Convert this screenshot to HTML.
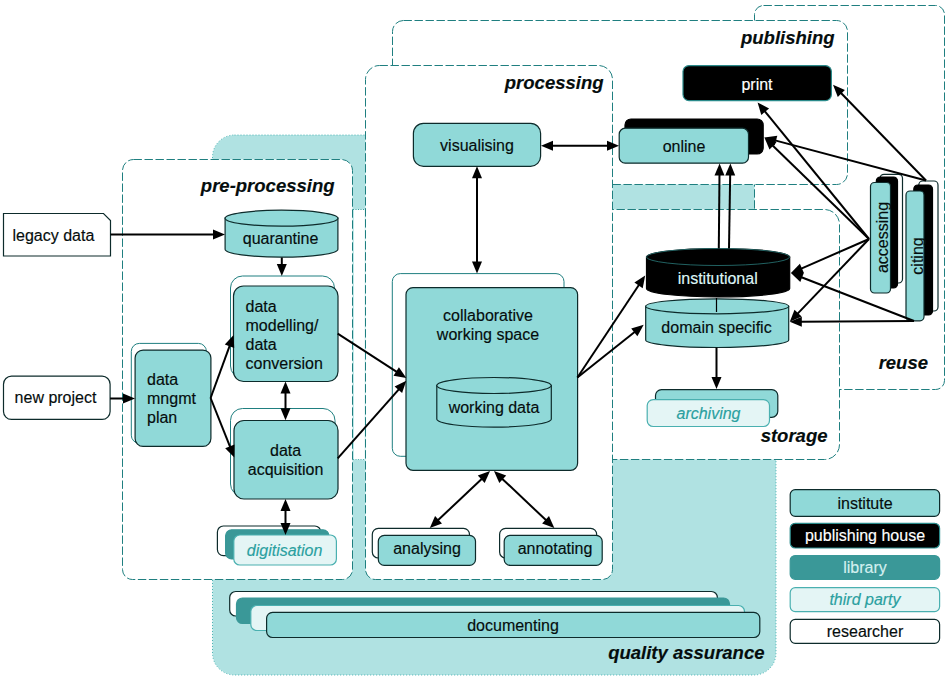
<!DOCTYPE html>
<html><head><meta charset="utf-8"><style>
html,body{margin:0;padding:0;background:#fff;width:950px;height:678px;overflow:hidden}
svg{display:block;font-family:"Liberation Sans", sans-serif}
</style></head><body>
<svg width="950" height="678" viewBox="0 0 950 678">
<rect x="0" y="0" width="950" height="678" fill="#ffffff"/>
<rect x="212.5" y="135" width="563.5" height="540" rx="22" ry="22" fill="#b0e2e2" stroke="#4cb4b4" stroke-width="1" stroke-dasharray="1 2"/>
<rect x="754.5" y="5.5" width="190.0" height="384.0" rx="9" ry="9" fill="#ffffff" stroke="#1f7f80" stroke-width="1" stroke-dasharray="8.4 2.6"/>
<rect x="392.5" y="20.5" width="455.0" height="164.0" rx="11" ry="11" fill="#ffffff" stroke="#1f7f80" stroke-width="1" stroke-dasharray="8.4 2.6"/>
<rect x="590.5" y="209.5" width="249.0" height="250.0" rx="15" ry="15" fill="#ffffff" stroke="#1f7f80" stroke-width="1" stroke-dasharray="8.4 2.6"/>
<path d="M379.5,65.5 L598.5,65.5 A14,14 0 0 1 612.5,79.5 L612.5,569.5 A10,10 0 0 1 602.5,579.5 L375.5,579.5 A10,10 0 0 1 365.5,569.5 L365.5,79.5 A14,14 0 0 1 379.5,65.5 Z" fill="#ffffff" stroke="#1f7f80" stroke-width="1" stroke-dasharray="8.4 2.6"/>
<path d="M133.5,159.5 L341.5,159.5 A11,11 0 0 1 352.5,170.5 L352.5,569.5 A10,10 0 0 1 342.5,579.5 L132.5,579.5 A10,10 0 0 1 122.5,569.5 L122.5,170.5 A11,11 0 0 1 133.5,159.5 Z" fill="#ffffff" stroke="#1f7f80" stroke-width="1" stroke-dasharray="8.4 2.6"/>
<rect x="353.8" y="209.5" width="11" height="250" fill="#ffffff"/>
<line x1="353" y1="209.5" x2="365.5" y2="209.5" stroke="#3a9e9e" stroke-width="1" stroke-dasharray="1 1.5"/>
<line x1="353" y1="459.5" x2="365.5" y2="459.5" stroke="#5ab5b5" stroke-width="1" stroke-dasharray="1 1.5"/>
<text x="334.5" y="191.6" font-size="18.5" text-anchor="end" fill="#050d0d" stroke="#050d0d" stroke-width="0.15" font-weight="bold" font-style="italic" >pre-processing</text>
<text x="603.5" y="88.5" font-size="18.5" text-anchor="end" fill="#050d0d" stroke="#050d0d" stroke-width="0.15" font-weight="bold" font-style="italic" >processing</text>
<text x="834.5" y="44.0" font-size="18.5" text-anchor="end" fill="#050d0d" stroke="#050d0d" stroke-width="0.15" font-weight="bold" font-style="italic" >publishing</text>
<text x="827.5" y="442.0" font-size="18.5" text-anchor="end" fill="#050d0d" stroke="#050d0d" stroke-width="0.15" font-weight="bold" font-style="italic" >storage</text>
<text x="928.0" y="368.6" font-size="18.5" text-anchor="end" fill="#050d0d" stroke="#050d0d" stroke-width="0.15" font-weight="bold" font-style="italic" >reuse</text>
<text x="764.5" y="658.6" font-size="18.5" text-anchor="end" fill="#050d0d" stroke="#050d0d" stroke-width="0.15" font-weight="bold" font-style="italic" >quality assurance</text>
<polygon points="3.5,213.5 103.5,213.5 110.5,220.5 110.5,256 3.5,256" fill="#ffffff" stroke="#0d2b2b" stroke-width="1.2"/>
<text x="12.5" y="241.0" font-size="16" text-anchor="start" fill="#050d0d" stroke="#050d0d" stroke-width="0.15" font-weight="normal" font-style="normal" >legacy data</text>
<rect x="3.5" y="376.2" width="106.6" height="43.2" rx="8" ry="8" fill="#ffffff" stroke="#0d2b2b" stroke-width="1.2" />
<text x="55.5" y="403.3" font-size="16" text-anchor="middle" fill="#050d0d" stroke="#050d0d" stroke-width="0.15" font-weight="normal" font-style="normal" >new project</text>
<rect x="131.3" y="343.4" width="75.1" height="99.8" rx="8" ry="8" fill="#ffffff" stroke="#1f7f80" stroke-width="1" />
<rect x="135.1" y="350.1" width="75.8" height="96.3" rx="8" ry="8" fill="#90d9d8" stroke="#0d2b2b" stroke-width="1.2" />
<text x="147.0" y="385.2" font-size="16" text-anchor="start" fill="#050d0d" stroke="#050d0d" stroke-width="0.15" font-weight="normal" font-style="normal" >data</text>
<text x="147.0" y="404.2" font-size="16" text-anchor="start" fill="#050d0d" stroke="#050d0d" stroke-width="0.15" font-weight="normal" font-style="normal" >mngmt</text>
<text x="147.0" y="423.2" font-size="16" text-anchor="start" fill="#050d0d" stroke="#050d0d" stroke-width="0.15" font-weight="normal" font-style="normal" >plan</text>
<path d="M225.1,218.2 L225.1,249.2 A56.4,8.0 0 0 0 337.9,249.2 L337.9,218.2 Z" fill="#90d9d8" stroke="#0d2b2b" stroke-width="1.2"/>
<ellipse cx="281.5" cy="218.2" rx="56.4" ry="8.0" fill="#90d9d8" stroke="#0d2b2b" stroke-width="1.2"/>
<text x="280.6" y="243.9" font-size="16" text-anchor="middle" fill="#050d0d" stroke="#050d0d" stroke-width="0.15" font-weight="normal" font-style="normal" >quarantine</text>
<rect x="230.5" y="276.0" width="104.0" height="102.0" rx="12" ry="12" fill="#ffffff" stroke="#1f7f80" stroke-width="1" />
<rect x="233.5" y="286.0" width="104.5" height="95.5" rx="10" ry="10" fill="#90d9d8" stroke="#0d2b2b" stroke-width="1.2" />
<text x="245.5" y="311.8" font-size="16" text-anchor="start" fill="#050d0d" stroke="#050d0d" stroke-width="0.15" font-weight="normal" font-style="normal" >data</text>
<text x="245.5" y="330.8" font-size="16" text-anchor="start" fill="#050d0d" stroke="#050d0d" stroke-width="0.15" font-weight="normal" font-style="normal" >modelling/</text>
<text x="245.5" y="349.8" font-size="16" text-anchor="start" fill="#050d0d" stroke="#050d0d" stroke-width="0.15" font-weight="normal" font-style="normal" >data</text>
<text x="245.5" y="368.8" font-size="16" text-anchor="start" fill="#050d0d" stroke="#050d0d" stroke-width="0.15" font-weight="normal" font-style="normal" >conversion</text>
<rect x="230.5" y="408.5" width="104.5" height="87.5" rx="12" ry="12" fill="#ffffff" stroke="#1f7f80" stroke-width="1" />
<rect x="234.0" y="420.5" width="104.0" height="78.5" rx="10" ry="10" fill="#90d9d8" stroke="#0d2b2b" stroke-width="1.2" />
<text x="285.6" y="456.0" font-size="16" text-anchor="middle" fill="#050d0d" stroke="#050d0d" stroke-width="0.15" font-weight="normal" font-style="normal" >data</text>
<text x="285.6" y="474.8" font-size="16" text-anchor="middle" fill="#050d0d" stroke="#050d0d" stroke-width="0.15" font-weight="normal" font-style="normal" >acquisition</text>
<rect x="217.4" y="526.0" width="103.4" height="29.6" rx="6" ry="6" fill="#ffffff" stroke="#0d2b2b" stroke-width="1.2" />
<rect x="225.6" y="529.8" width="103.4" height="29.1" rx="6" ry="6" fill="#3a9898" stroke="#3a9898" stroke-width="1.2" />
<rect x="233.8" y="535.0" width="102.6" height="30.0" rx="6" ry="6" fill="#e4f5f5" stroke="#4ab0b0" stroke-width="1.2" />
<text x="284.6" y="556.0" font-size="16" text-anchor="middle" fill="#2aa0a0" stroke="#2aa0a0" stroke-width="0.15" font-weight="normal" font-style="italic" >digitisation</text>
<rect x="413.4" y="123.3" width="127.2" height="43.0" rx="10" ry="10" fill="#90d9d8" stroke="#0d2b2b" stroke-width="1.2" />
<text x="477.0" y="151.0" font-size="16" text-anchor="middle" fill="#050d0d" stroke="#050d0d" stroke-width="0.15" font-weight="normal" font-style="normal" >visualising</text>
<rect x="392.3" y="273.6" width="171.7" height="182.7" rx="8" ry="8" fill="#ffffff" stroke="#1f7f80" stroke-width="1" />
<rect x="406.0" y="287.6" width="171.6" height="182.7" rx="7" ry="7" fill="#90d9d8" stroke="#0d2b2b" stroke-width="1.2" />
<text x="488.0" y="320.7" font-size="16" text-anchor="middle" fill="#050d0d" stroke="#050d0d" stroke-width="0.15" font-weight="normal" font-style="normal" >collaborative</text>
<text x="488.0" y="339.5" font-size="16" text-anchor="middle" fill="#050d0d" stroke="#050d0d" stroke-width="0.15" font-weight="normal" font-style="normal" >working space</text>
<path d="M436.8,385.5 L436.8,419.1 A57.2,8.0 0 0 0 551.3,419.1 L551.3,385.5 Z" fill="#90d9d8" stroke="#0d2b2b" stroke-width="1.2"/>
<ellipse cx="494.0" cy="385.5" rx="57.2" ry="8.0" fill="#90d9d8" stroke="#0d2b2b" stroke-width="1.2"/>
<text x="494.0" y="412.5" font-size="16" text-anchor="middle" fill="#050d0d" stroke="#050d0d" stroke-width="0.15" font-weight="normal" font-style="normal" >working data</text>
<rect x="372.3" y="528.4" width="97.2" height="29.6" rx="6" ry="6" fill="#ffffff" stroke="#0d2b2b" stroke-width="1.2" />
<rect x="378.3" y="535.3" width="97.2" height="30.1" rx="6" ry="6" fill="#90d9d8" stroke="#0d2b2b" stroke-width="1.2" />
<text x="427.0" y="554.0" font-size="16" text-anchor="middle" fill="#050d0d" stroke="#050d0d" stroke-width="0.15" font-weight="normal" font-style="normal" >analysing</text>
<rect x="499.6" y="528.4" width="97.1" height="29.6" rx="6" ry="6" fill="#ffffff" stroke="#0d2b2b" stroke-width="1.2" />
<rect x="504.2" y="535.3" width="98.0" height="30.1" rx="6" ry="6" fill="#90d9d8" stroke="#0d2b2b" stroke-width="1.2" />
<text x="555.0" y="554.0" font-size="16" text-anchor="middle" fill="#050d0d" stroke="#050d0d" stroke-width="0.15" font-weight="normal" font-style="normal" >annotating</text>
<rect x="229.7" y="591.5" width="487.7" height="24.5" rx="6" ry="6" fill="#ffffff" stroke="#0d2b2b" stroke-width="1.2" />
<rect x="236.5" y="598.0" width="493.0" height="25.5" rx="6" ry="6" fill="#3a9898" stroke="#3a9898" stroke-width="1.2" />
<rect x="250.8" y="605.5" width="493.7" height="25.0" rx="6" ry="6" fill="#e4f5f5" stroke="#4ab0b0" stroke-width="1.2" />
<rect x="266.6" y="612.3" width="493.2" height="25.2" rx="6" ry="6" fill="#90d9d8" stroke="#0d2b2b" stroke-width="1.2" />
<text x="513.0" y="631.0" font-size="16" text-anchor="middle" fill="#050d0d" stroke="#050d0d" stroke-width="0.15" font-weight="normal" font-style="normal" >documenting</text>
<rect x="683.0" y="65.6" width="148.4" height="35.0" rx="6" ry="6" fill="#000000" stroke="#2a8a8a" stroke-width="1.2" />
<text x="757.0" y="90.0" font-size="16" text-anchor="middle" fill="#ffffff" stroke="#ffffff" stroke-width="0.15" font-weight="normal" font-style="normal" >print</text>
<rect x="625.0" y="119.0" width="138.2" height="35.0" rx="6" ry="6" fill="#000000" stroke="#000" stroke-width="1.2" />
<rect x="619.2" y="128.2" width="129.3" height="35.0" rx="6" ry="6" fill="#90d9d8" stroke="#0d2b2b" stroke-width="1.2" />
<text x="684.0" y="151.8" font-size="16" text-anchor="middle" fill="#050d0d" stroke="#050d0d" stroke-width="0.15" font-weight="normal" font-style="normal" >online</text>
<path d="M645.7,306.3 L645.7,340.0 A71.5,7.5 0 0 0 788.7,340.0 L788.7,306.3 Z" fill="#90d9d8" stroke="#0d2b2b" stroke-width="1.2"/>
<ellipse cx="717.2" cy="306.3" rx="71.5" ry="7.5" fill="#90d9d8" stroke="#0d2b2b" stroke-width="1.2"/>
<text x="716.5" y="332.7" font-size="16" text-anchor="middle" fill="#050d0d" stroke="#050d0d" stroke-width="0.15" font-weight="normal" font-style="normal" >domain specific</text>
<path d="M646.5,257.0 L646.5,288.5 A71.6,8.5 0 0 0 789.7,288.5 L789.7,257.0 Z" fill="#000000" stroke="#000" stroke-width="1.2"/>
<ellipse cx="718.1" cy="257.0" rx="71.6" ry="8.5" fill="#000000" stroke="#000" stroke-width="1.2"/>
<ellipse cx="718" cy="257" rx="71.6" ry="8.5" fill="none" stroke="#2a7a7a" stroke-width="0.8"/>
<text x="717.7" y="283.6" font-size="16" text-anchor="middle" fill="#dff6f6" stroke="#dff6f6" stroke-width="0.15" font-weight="normal" font-style="normal" >institutional</text>
<line x1="716.5" y1="298.0" x2="716.5" y2="312.0" stroke="#000" stroke-width="1.2"/>
<rect x="655.5" y="389.6" width="122.3" height="27.7" rx="6" ry="6" fill="#90d9d8" stroke="#0d2b2b" stroke-width="1.2" />
<rect x="647.2" y="399.6" width="122.3" height="26.9" rx="6" ry="6" fill="#e4f5f5" stroke="#4ab0b0" stroke-width="1.2" />
<text x="708.5" y="418.8" font-size="16" text-anchor="middle" fill="#2aa0a0" stroke="#2aa0a0" stroke-width="0.15" font-weight="normal" font-style="italic" >archiving</text>
<rect x="880.0" y="174.3" width="22.5" height="108.7" rx="4" ry="4" fill="#ffffff" stroke="#0d2b2b" stroke-width="1.2" />
<rect x="876.3" y="177.0" width="21.2" height="111.0" rx="4" ry="4" fill="#000000" stroke="#000" stroke-width="1.2" />
<rect x="870.5" y="182.5" width="20.0" height="110.5" rx="4" ry="4" fill="#90d9d8" stroke="#0d2b2b" stroke-width="1.2" />
<text x="0.0" y="0.0" font-size="16" text-anchor="middle" fill="#050d0d" stroke="#050d0d" stroke-width="0.15" font-weight="normal" font-style="normal" transform="translate(887.5,237.5) rotate(-90)">accessing</text>
<rect x="918.8" y="181.0" width="19.2" height="130.0" rx="4" ry="4" fill="#ffffff" stroke="#0d2b2b" stroke-width="1.2" />
<rect x="913.8" y="185.0" width="18.7" height="130.0" rx="4" ry="4" fill="#000000" stroke="#000" stroke-width="1.2" />
<rect x="906.0" y="191.0" width="18.0" height="129.8" rx="4" ry="4" fill="#90d9d8" stroke="#0d2b2b" stroke-width="1.2" />
<text x="0.0" y="0.0" font-size="16" text-anchor="middle" fill="#050d0d" stroke="#050d0d" stroke-width="0.15" font-weight="normal" font-style="normal" transform="translate(922.5,256) rotate(-90)">citing</text>
<rect x="790.2" y="489.6" width="149.4" height="26.7" rx="5" ry="5" fill="#90d9d8" stroke="#0d2b2b" stroke-width="1.2" />
<text x="865.0" y="508.7" font-size="16" text-anchor="middle" fill="#050d0d" stroke="#050d0d" stroke-width="0.15" font-weight="normal" font-style="normal" >institute</text>
<rect x="790.2" y="523.3" width="149.4" height="24.7" rx="5" ry="5" fill="#000000" stroke="#2a8a8a" stroke-width="1.2" />
<text x="865.0" y="541.3" font-size="16" text-anchor="middle" fill="#ffffff" stroke="#ffffff" stroke-width="0.15" font-weight="normal" font-style="normal" >publishing house</text>
<rect x="790.2" y="555.5" width="149.4" height="23.8" rx="5" ry="5" fill="#3a9898" stroke="#3a9898" stroke-width="1.2" />
<text x="865.0" y="573.1" font-size="16" text-anchor="middle" fill="#d4f0f0" stroke="#d4f0f0" stroke-width="0.15" font-weight="normal" font-style="normal" >library</text>
<rect x="790.2" y="587.7" width="149.4" height="23.9" rx="5" ry="5" fill="#e4f5f5" stroke="#4ab0b0" stroke-width="1.2" />
<text x="865.0" y="605.0" font-size="16" text-anchor="middle" fill="#2aa0a0" stroke="#2aa0a0" stroke-width="0.15" font-weight="normal" font-style="italic" >third party</text>
<rect x="790.2" y="619.4" width="149.4" height="23.9" rx="5" ry="5" fill="#ffffff" stroke="#0d2b2b" stroke-width="1.2" />
<text x="865.0" y="636.7" font-size="16" text-anchor="middle" fill="#050d0d" stroke="#050d0d" stroke-width="0.15" font-weight="normal" font-style="normal" >researcher</text>
<line x1="110.5" y1="234.6" x2="215.0" y2="234.6" stroke="#000" stroke-width="2"/>
<polygon points="225.0,234.6 213.0,239.6 213.0,229.6" fill="#000"/>
<line x1="110.1" y1="398.5" x2="125.0" y2="398.5" stroke="#000" stroke-width="2"/>
<polygon points="135.0,398.5 123.0,403.5 123.0,393.5" fill="#000"/>
<line x1="281.8" y1="257.5" x2="281.8" y2="266.0" stroke="#000" stroke-width="2"/>
<polygon points="281.8,276.0 276.8,264.0 286.8,264.0" fill="#000"/>
<line x1="210.6" y1="398.0" x2="230.2" y2="344.4" stroke="#000" stroke-width="2"/>
<polygon points="233.6,335.0 234.2,348.0 224.8,344.6" fill="#000"/>
<line x1="210.6" y1="398.0" x2="230.6" y2="448.2" stroke="#000" stroke-width="2"/>
<polygon points="234.3,457.5 225.2,448.2 234.5,444.5" fill="#000"/>
<line x1="285.5" y1="391.5" x2="285.5" y2="410.2" stroke="#000" stroke-width="2"/>
<polygon points="285.5,420.2 280.5,408.2 290.5,408.2" fill="#000"/>
<polygon points="285.5,381.5 290.5,393.5 280.5,393.5" fill="#000"/>
<line x1="285.5" y1="509.0" x2="285.5" y2="525.0" stroke="#000" stroke-width="2"/>
<polygon points="285.5,535.0 280.5,523.0 290.5,523.0" fill="#000"/>
<polygon points="285.5,499.0 290.5,511.0 280.5,511.0" fill="#000"/>
<line x1="551.0" y1="145.8" x2="609.0" y2="145.8" stroke="#000" stroke-width="2"/>
<polygon points="619.0,145.8 607.0,150.8 607.0,140.8" fill="#000"/>
<polygon points="541.0,145.8 553.0,140.8 553.0,150.8" fill="#000"/>
<line x1="477.0" y1="176.3" x2="477.0" y2="263.6" stroke="#000" stroke-width="2"/>
<polygon points="477.0,273.6 472.0,261.6 482.0,261.6" fill="#000"/>
<polygon points="477.0,166.3 482.0,178.3 472.0,178.3" fill="#000"/>
<line x1="337.7" y1="333.7" x2="397.9" y2="372.6" stroke="#000" stroke-width="2"/>
<polygon points="406.3,378.0 393.5,375.7 398.9,367.3" fill="#000"/>
<line x1="337.7" y1="458.3" x2="399.7" y2="388.3" stroke="#000" stroke-width="2"/>
<polygon points="406.3,380.8 402.1,393.1 394.6,386.5" fill="#000"/>
<line x1="482.7" y1="477.9" x2="437.1" y2="521.1" stroke="#000" stroke-width="2"/>
<polygon points="429.8,528.0 435.1,516.1 442.0,523.4" fill="#000"/>
<polygon points="490.0,471.0 484.7,482.9 477.8,475.6" fill="#000"/>
<line x1="501.3" y1="477.9" x2="547.0" y2="521.1" stroke="#000" stroke-width="2"/>
<polygon points="554.3,528.0 542.1,523.4 549.0,516.1" fill="#000"/>
<polygon points="494.0,471.0 506.2,475.6 499.3,482.9" fill="#000"/>
<line x1="718.8" y1="248.5" x2="719.5" y2="173.5" stroke="#000" stroke-width="2"/>
<polygon points="719.6,163.5 724.5,175.5 714.5,175.5" fill="#000"/>
<line x1="729.0" y1="248.5" x2="730.2" y2="173.5" stroke="#000" stroke-width="2"/>
<polygon points="730.4,163.5 735.2,175.6 725.2,175.4" fill="#000"/>
<line x1="716.5" y1="347.5" x2="716.5" y2="379.0" stroke="#000" stroke-width="2"/>
<polygon points="716.5,389.0 711.5,377.0 721.5,377.0" fill="#000"/>
<line x1="577.4" y1="377.5" x2="639.7" y2="283.7" stroke="#000" stroke-width="2"/>
<polygon points="645.2,275.4 642.7,288.2 634.4,282.6" fill="#000"/>
<line x1="577.4" y1="377.5" x2="635.9" y2="331.0" stroke="#000" stroke-width="2"/>
<polygon points="643.7,324.8 637.4,336.2 631.2,328.4" fill="#000"/>
<line x1="869.0" y1="239.0" x2="763.9" y2="110.1" stroke="#000" stroke-width="2"/>
<polygon points="757.6,102.4 769.1,108.5 761.3,114.9" fill="#000"/>
<line x1="869.0" y1="239.0" x2="771.6" y2="144.5" stroke="#000" stroke-width="2"/>
<polygon points="764.4,137.5 776.5,142.3 769.5,149.4" fill="#000"/>
<line x1="869.0" y1="239.0" x2="800.1" y2="269.1" stroke="#000" stroke-width="2"/>
<polygon points="790.9,273.1 799.9,263.7 803.9,272.9" fill="#000"/>
<line x1="869.0" y1="239.0" x2="796.7" y2="314.6" stroke="#000" stroke-width="2"/>
<polygon points="789.8,321.8 794.5,309.7 801.7,316.6" fill="#000"/>
<line x1="926.0" y1="180.5" x2="840.0" y2="92.0" stroke="#000" stroke-width="2"/>
<polygon points="833.0,84.8 844.9,89.9 837.8,96.9" fill="#000"/>
<line x1="926.0" y1="180.5" x2="774.1" y2="140.1" stroke="#000" stroke-width="2"/>
<polygon points="764.4,137.5 777.3,135.8 774.7,145.4" fill="#000"/>
<line x1="914.0" y1="321.0" x2="800.2" y2="276.7" stroke="#000" stroke-width="2"/>
<polygon points="790.9,273.1 803.9,272.8 800.3,282.1" fill="#000"/>
<line x1="914.0" y1="321.0" x2="799.8" y2="321.7" stroke="#000" stroke-width="2"/>
<polygon points="789.8,321.8 801.8,316.7 801.8,326.7" fill="#000"/>
</svg>
</body></html>
